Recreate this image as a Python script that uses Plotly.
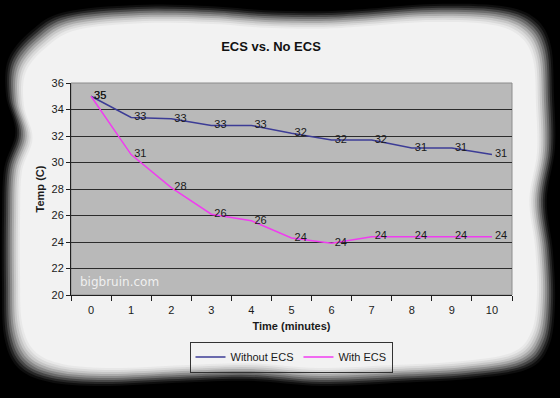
import plotly.graph_objects as go

# ---- data ----
minutes = list(range(11))
tick_labels = [str(m) for m in minutes]
without_ecs = [35.0, 33.4, 33.3, 32.8, 32.8, 32.2, 31.7, 31.7, 31.1, 31.1, 30.6]
with_ecs = [35.0, 30.6, 28.1, 26.1, 25.6, 24.3, 23.9, 24.4, 24.4, 24.4, 24.4]
y_ticks = list(range(20, 37, 2))

W, H = 560, 398
ML, MR, MT, MB = 71, 48, 83, 103
PW, PH = W - ML - MR, H - MT - MB


def px(x):
    return (x - ML) / PW


def py(y):
    return (MT + PH - y) / PH


# decorative wavy frame outline (pixel coords)
frame_pts = [
    (38, 38), (70, 20), (140, 13), (210, 14), (265, 18), (320, 19), (360, 17),
    (430, 12), (495, 14), (528, 26),
    (543, 52), (546, 100), (547, 150), (539, 200), (545, 250), (547, 300), (541, 340),
    (520, 362), (465, 371), (395, 375), (320, 378), (250, 373), (180, 375),
    (107, 378), (55, 374), (25, 360),
    (12, 330), (10, 280), (10, 220), (12, 170), (23, 135), (14, 100), (16, 65),
]


def catmull(pts, n=8):
    out = []
    k = len(pts)
    for i in range(k):
        p0, p1, p2, p3 = pts[i - 1], pts[i], pts[(i + 1) % k], pts[(i + 2) % k]
        for s in range(n):
            t = s / n
            t2, t3 = t * t, t * t * t
            x = 0.5 * ((2 * p1[0]) + (-p0[0] + p2[0]) * t + (2 * p0[0] - 5 * p1[0] + 4 * p2[0] - p3[0]) * t2 + (-p0[0] + 3 * p1[0] - 3 * p2[0] + p3[0]) * t3)
            y = 0.5 * ((2 * p1[1]) + (-p0[1] + p2[1]) * t + (2 * p0[1] - 5 * p1[1] + 4 * p2[1] - p3[1]) * t2 + (-p0[1] + 3 * p1[1] - 3 * p2[1] + p3[1]) * t3)
            out.append((x, y))
    return out


smooth = catmull(frame_pts)
cx, cy, hw, hh = 279, 196, 268, 182


def frame_path(d):
    sx, sy = (hw + d) / hw, (hh + d) / hh
    parts = []
    for i, (x, y) in enumerate(smooth):
        X = cx + (x - cx) * sx
        Y = cy + (y - cy) * sy
        parts.append(("M" if i == 0 else "L") + f"{px(X):.5f},{py(Y):.5f}")
    return " ".join(parts) + " Z"


shapes = []
layers = [(8, 0.06), (6, 0.16), (4, 0.3), (2, 0.45), (0, 0.58), (-2, 0.71), (-4, 0.82), (-6, 0.9), (-8, 0.96), (-10, 1.0)]
for d, f in layers:
    v = int(242 * f)
    shapes.append(dict(type="path", path=frame_path(d), xref="paper", yref="paper",
                       fillcolor=f"rgb({v},{v},{v})", line=dict(width=0), layer="below"))

# plot area background
shapes.append(dict(type="rect", xref="paper", yref="paper", x0=0, x1=1, y0=0, y1=1,
                   fillcolor="#b9b9b9", line=dict(color="#8c8c8c", width=1), layer="below"))

NBSP = "\u00a0"

fig = go.Figure()
fig.add_trace(go.Scatter(
    x=minutes, y=without_ecs, name="Without ECS", mode="lines+text",
    line=dict(color="#3c3c96", width=1.5),
    text=[f"{NBSP}{v:.0f}" for v in without_ecs], textposition="middle right",
    textfont=dict(family="Liberation Sans, Arial", size=11, color="#1a1a1a"),
    cliponaxis=False,
))
fig.add_trace(go.Scatter(
    x=minutes, y=with_ecs, name="With ECS", mode="lines+text",
    line=dict(color="#f03cf0", width=1.5),
    text=[f"{NBSP}{v:.0f}" for v in with_ecs], textposition="middle right",
    textfont=dict(family="Liberation Sans, Arial", size=11, color="#1a1a1a"),
    cliponaxis=False,
))

fig.update_layout(
    width=W, height=H,
    margin=dict(l=ML, r=MR, t=MT, b=MB, autoexpand=False),
    paper_bgcolor="black",
    plot_bgcolor="rgba(0,0,0,0)",
    shapes=shapes,
    font=dict(family="Liberation Sans, Arial", size=11, color="#1a1a1a"),
    title=dict(text="<b>ECS vs. No ECS</b>", x=px(271), xref="paper", xanchor="center",
               y=1 - 46 / H, yref="container", yanchor="middle",
               font=dict(size=13, color="#111111")),
    xaxis=dict(
        range=[-0.5, 10.5], tickmode="array", tickvals=minutes, ticktext=tick_labels,
        showgrid=False, zeroline=False, showline=True, linecolor="#202020", linewidth=1,
        ticks="outside", ticklen=5, tickcolor="rgba(0,0,0,0)",
        minor=dict(ticks="outside", tick0=-0.5, dtick=1, ticklen=5, tickcolor="#202020", showgrid=False),
        title=dict(text="<b>Time (minutes)</b>", standoff=7, font=dict(size=11)),
        tickfont=dict(size=11), automargin=False,
    ),
    yaxis=dict(
        range=[20, 36], tickmode="array", tickvals=y_ticks,
        showgrid=True, gridcolor="#2c2c2c", gridwidth=1, zeroline=False,
        showline=True, linecolor="#202020", linewidth=1,
        ticks="outside", ticklen=4, tickcolor="#202020",
        title=dict(text="<b>Temp (C)</b>", standoff=4, font=dict(size=11)),
        tickfont=dict(size=11), automargin=False,
    ),
    legend=dict(
        orientation="h", x=px(291), xanchor="center", y=py(357), yanchor="middle",
        bordercolor="#333333", borderwidth=1, bgcolor="rgba(0,0,0,0)",
        font=dict(size=11), itemwidth=30, tracegroupgap=0,
    ),
    annotations=[dict(
        text="bigbruin.com", xref="paper", yref="paper", x=px(78), y=py(282),
        xanchor="left", yanchor="middle", showarrow=False,
        font=dict(family="DejaVu Sans", size=12, color="rgba(255,255,255,0.8)"),
    )],
)

fig.write_html("out.html", config={"displayModeBar": False},
               post_script="document.body.style.margin='0';document.body.style.background='black';")
